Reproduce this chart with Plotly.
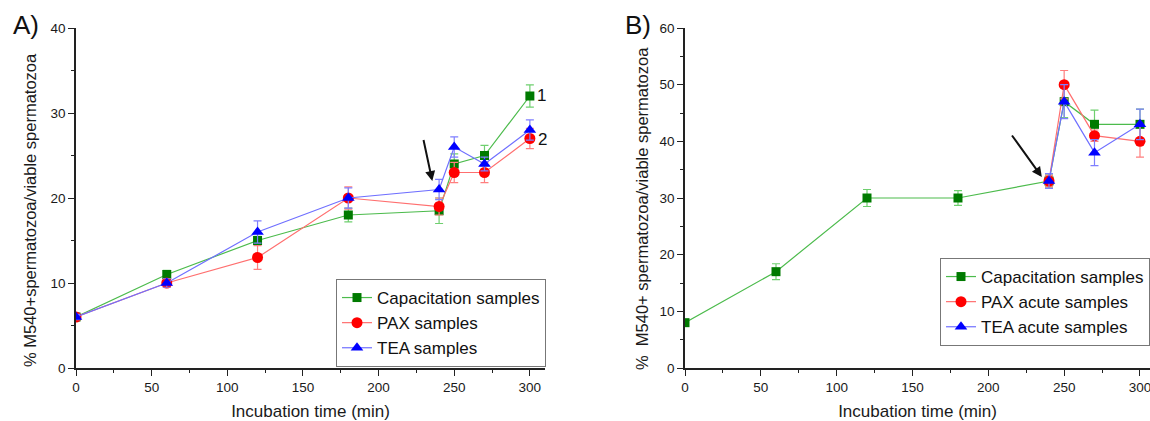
import plotly.graph_objects as go

# ---------------- data ----------------
time_a = [0, 60, 120, 180, 240, 250, 270, 300]
cap_a = [6, 11, 15, 18, 18.5, 24, 25, 32]
cap_a_err = [0.3, 0.5, 0.5, 0.8, 1.5, 1.2, 1.2, 1.3]
pax_a = [6, 10, 13, 20, 19, 23, 23, 27]
pax_a_err = [0.3, 0.5, 1.4, 1.3, 1.0, 1.2, 1.2, 1.2]
tea_a = [6, 10, 16, 20, 21, 26, 24, 28]
tea_a_err = [0.3, 0.5, 1.3, 1.2, 1.2, 1.2, 0.8, 1.2]

time_b = [0, 60, 120, 180, 240, 250, 270, 300]
cap_b = [8, 17, 30, 30, 33, 47, 43, 43]
cap_b_err = [0.5, 1.4, 1.5, 1.3, 1.2, 2.8, 2.5, 2.7]
time_b_acute = [240, 250, 270, 300]
pax_b = [33, 50, 41, 40]
pax_b_err = [1.0, 2.5, 1.0, 2.8]
tea_b = [33, 47, 38, 43]
tea_b_err = [1.3, 3.0, 2.3, 2.7]

names_a = ["Capacitation samples", "PAX samples", "TEA samples"]
names_b = ["Capacitation samples", "PAX acute samples", "TEA acute samples"]
ytitle_a = "% M540+spermatozoa/viable spermatozoa"
ytitle_b = "%  M540+ spermatozoa/viable spermatozoa"
xtitle = "Incubation time (min)"

# ---------------- style ----------------
styles = [
    dict(line="#4cbb4c", marker="#007a00", err="#6fcf6f", symbol="square", size=9),
    dict(line="#ff6f6f", marker="#ff0000", err="#ff7f7f", symbol="circle", size=11),
    dict(line="#6f6fff", marker="#0000ff", err="#7f7fff", symbol="triangle-up", size=11),
]
FONT = "Liberation Sans, Arial"

fig = go.Figure()

def add(x, y, e, st, name, xa, ya, legend):
    fig.add_trace(go.Scatter(
        x=x, y=y, name=name, mode="lines+markers",
        xaxis=xa, yaxis=ya, legend=legend, cliponaxis=True,
        line=dict(color=st["line"], width=1.2),
        marker=dict(color=st["marker"], symbol=st["symbol"], size=st["size"], line=dict(width=0)),
        error_y=dict(type="data", array=e, visible=True, color=st["err"], thickness=1.2, width=4),
    ))

series_a = [(cap_a, cap_a_err), (pax_a, pax_a_err), (tea_a, tea_a_err)]
for (y, e), st, n in zip(series_a, styles, names_a):
    add(time_a, y, e, st, n, "x", "y", "legend")

add(time_b, cap_b, cap_b_err, styles[0], names_b[0], "x2", "y2", "legend2")
add(time_b_acute, pax_b, pax_b_err, styles[1], names_b[1], "x2", "y2", "legend2")
add(time_b_acute, tea_b, tea_b_err, styles[2], names_b[2], "x2", "y2", "legend2")

W, H = 1150, 421
ydom = [1 - 368 / H, 1 - 28 / H]
tickfont = dict(family=FONT, size=13.5, color="#1a1a1a")
titlefont = dict(family=FONT, size=17, color="#1a1a1a")

def xaxis(dom, rng, anchor):
    return dict(domain=dom, range=rng, anchor=anchor, showline=True, linecolor="#222", linewidth=1.5,
                ticks="outside", ticklen=6, tickwidth=1.2, tickcolor="#222", dtick=50, tick0=0,
                minor=dict(ticks="outside", ticklen=3, dtick=25, tickcolor="#222", tickwidth=1.2),
                showgrid=False, zeroline=False, tickfont=tickfont, ticklabeloverflow="allow",
                title=dict(text=xtitle, font=titlefont, standoff=13))

def yaxis(anchor, rng):
    return dict(domain=ydom, range=rng, anchor=anchor, showline=True, linecolor="#222", linewidth=1.5,
                ticks="outside", ticklen=6, tickwidth=1.2, tickcolor="#222", dtick=10, tick0=0,
                minor=dict(ticks="outside", ticklen=3, dtick=5, tickcolor="#222", tickwidth=1.2),
                showgrid=False, zeroline=False, tickfont=tickfont)

legend_style = dict(xanchor="left", yanchor="top", bordercolor="#777", borderwidth=1, bgcolor="white",
                    font=dict(family=FONT, size=17, color="#111"), tracegroupgap=0, itemwidth=30)

fig.update_layout(
    width=W, height=H, template="none",
    margin=dict(l=0, r=0, t=0, b=0),
    paper_bgcolor="white", plot_bgcolor="white",
    xaxis=xaxis([76 / W, 545 / W], [0, 310], "y"),
    yaxis=yaxis("x", [0, 40]),
    xaxis2=xaxis([685 / W, 1.0], [0, 306.6], "y2"),
    yaxis2=yaxis("x2", [0, 60]),
    legend=dict(x=336 / W, y=1 - 279 / H, **legend_style),
    legend2=dict(x=940 / W, y=1 - 258 / H, **legend_style),
    showlegend=True,
)

annos = [
    dict(text="A)", x=11 / W, y=1 - 8 / H, xref="paper", yref="paper", xanchor="left", yanchor="top",
         showarrow=False, font=dict(family=FONT, size=26, color="#111")),
    dict(text="B)", x=623 / W, y=1 - 8 / H, xref="paper", yref="paper", xanchor="left", yanchor="top",
         showarrow=False, font=dict(family=FONT, size=26, color="#111")),
    dict(text=ytitle_a, x=30 / W, y=1 - 210 / H, xref="paper", yref="paper", xanchor="center",
         yanchor="middle", textangle=-90, showarrow=False, font=dict(family=FONT, size=16.5, color="#1a1a1a")),
    dict(text=ytitle_b, x=642 / W, y=1 - 209 / H, xref="paper", yref="paper", xanchor="center",
         yanchor="middle", textangle=-90, showarrow=False, font=dict(family=FONT, size=16.5, color="#1a1a1a")),
    dict(text="1", x=303.5, y=32.1, xref="x", yref="y", xanchor="left", showarrow=False,
         font=dict(family=FONT, size=17, color="#111")),
    dict(text="2", x=304, y=26.9, xref="x", yref="y", xanchor="left", showarrow=False,
         font=dict(family=FONT, size=17, color="#111")),
    dict(text="", x=235.5, y=22.0, ax=229.5, ay=27.0, xref="x", yref="y", axref="x", ayref="y",
         showarrow=True, arrowhead=2, arrowsize=1, arrowwidth=2, arrowcolor="#111"),
    dict(text="", x=235.3, y=33.7, ax=214.9, ay=41.3, xref="x2", yref="y2", axref="x2", ayref="y2",
         showarrow=True, arrowhead=2, arrowsize=1, arrowwidth=2, arrowcolor="#111"),
]
fig.update_layout(annotations=annos)

fig.write_html("out.html")
